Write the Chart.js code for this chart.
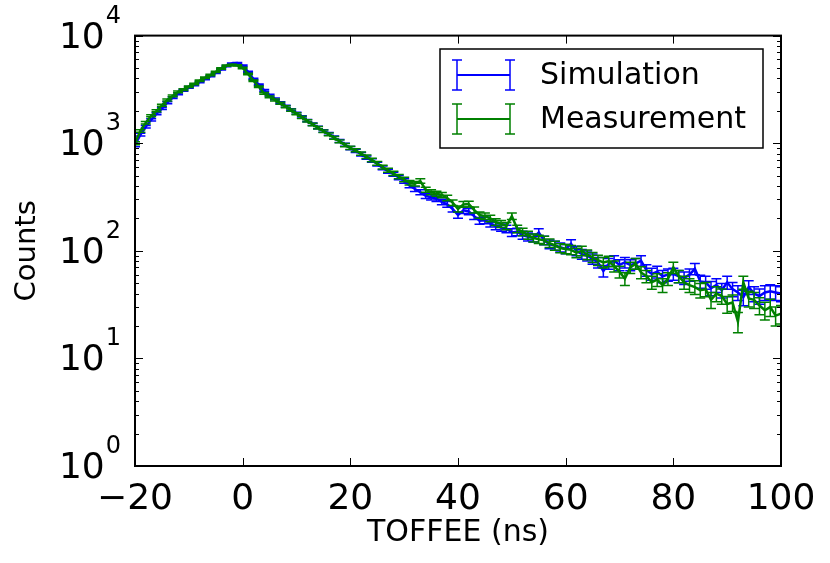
<!DOCTYPE html>
<html lang="en">
<head>
  <meta charset="UTF-8" />
  <title>TOFFEE distribution</title>
  <script src="https://cdn.jsdelivr.net/npm/chart.js"></script>
  <style>
    body { margin: 0; background: #fff; }
    #wrap { width: 830px; height: 563px; position: relative; }
  </style>
</head>
<body>
  <div id="wrap"><canvas id="chart"></canvas></div>

  <script>
    // bin centres (ns)
    const toffee = [
      -20, -19, -18, -17, -16, -15, -14, -13, -12, -11, -10, -9, -8, -7, -6, -5, -4, -3, -2, -1,
      0, 1, 2, 3, 4, 5, 6, 7, 8, 9, 10, 11, 12, 13, 14, 15, 16, 17, 18, 19,
      20, 21, 22, 23, 24, 25, 26, 27, 28, 29, 30, 31, 32, 33, 34, 35, 36, 37, 38, 39,
      40, 41, 42, 43, 44, 45, 46, 47, 48, 49, 50, 51, 52, 53, 54, 55, 56, 57, 58, 59,
      60, 61, 62, 63, 64, 65, 66, 67, 68, 69, 70, 71, 72, 73, 74, 75, 76, 77, 78, 79,
      80, 81, 82, 83, 84, 85, 86, 87, 88, 89, 90, 91, 92, 93, 94, 95, 96, 97, 98, 99, 100
    ];

    const simulation = [
      960, 1200, 1420, 1650, 1880, 2100, 2380, 2650, 2880, 3100, 3300, 3480, 3700, 3950, 4200, 4500, 4850, 5200, 5500, 5550,
      5250, 4600, 3950, 3500, 3100, 2800, 2580, 2380, 2200, 2050, 1900, 1760, 1620, 1500, 1400, 1300, 1220, 1130, 1050, 970,
      900, 850, 790, 735, 690, 640, 590, 550, 515, 480, 445, 405, 375, 350, 325, 315, 305, 285, 270, 245,
      215, 238, 232, 210, 190, 192, 180, 170, 165, 160, 148, 150, 140, 135, 132, 148, 125, 115, 112, 108,
      104, 116, 100, 93, 90, 84, 78, 65, 76, 81, 74, 78, 74, 76, 81, 66, 61, 64, 58, 60,
      61, 58, 56, 60, 68, 52, 51, 45, 48, 43, 51, 44, 41, 37, 46, 40, 38, 41, 42, 41, 40
    ];

    const measurement = [
      1000, 1300, 1550, 1800, 2000, 2250, 2520, 2750, 3000, 3150, 3350, 3550, 3800, 4050, 4300, 4600, 4950, 5250, 5350, 5300,
      5000, 4400, 3800, 3350, 2900, 2700, 2520, 2350, 2180, 2030, 1880, 1740, 1610, 1490, 1390, 1290, 1210, 1120, 1040, 960,
      905, 860, 800, 750, 700, 650, 600, 560, 525, 490, 460, 430, 420, 445, 370, 350, 340, 330, 310, 280,
      245, 270, 272, 240, 215, 210, 200, 185, 178, 170, 210, 160, 150, 140, 132, 128, 125, 118, 112, 106,
      104, 102, 96, 100, 92, 87, 82, 78, 80, 72, 64, 55, 70, 76, 63, 58, 51, 54, 48, 55,
      70, 58, 51, 48, 46, 43, 44, 35, 40, 38, 32, 33, 22, 51, 36, 35, 31, 28, 30, 25, 26
    ];

    const xTicks = [-20, 0, 20, 40, 60, 80, 100];
    const yDecades = [1, 10, 100, 1000, 10000];
    const seriesNames = ['Simulation', 'Measurement'];
    const seriesColors = ['#0000ff', '#008000'];

    const FONT = 'DejaVu Sans';

    // Poisson error bars, drawn through the y scale
    const errorBars = {
      id: 'errorBars',
      afterDatasetDraw(chart, args) {
        const ds = chart.data.datasets[args.index];
        const ys = chart.scales.y;
        const area = chart.chartArea;
        const ctx = chart.ctx;
        ctx.save();
        ctx.beginPath();
        ctx.rect(area.left, area.top, area.right - area.left, area.bottom - area.top);
        ctx.clip();
        ctx.strokeStyle = ds.borderColor;
        ctx.lineWidth = 1.5;
        args.meta.data.forEach((pt, i) => {
          const v = ds.data[i].y;
          const e = Math.sqrt(v);
          const top = ys.getPixelForValue(v + e);
          const bot = ys.getPixelForValue(v - e);
          const x = pt.x;
          ctx.beginPath();
          ctx.moveTo(x, top); ctx.lineTo(x, bot);
          ctx.moveTo(x - 5, top); ctx.lineTo(x + 5, top);
          ctx.moveTo(x - 5, bot); ctx.lineTo(x + 5, bot);
          ctx.stroke();
        });
        ctx.restore();
      }
    };

    // frame, inward ticks, 10^n labels and legend box
    const frame = {
      id: 'frame',
      afterDraw(chart) {
        const { ctx, chartArea: a, scales } = chart;
        ctx.save();
        ctx.strokeStyle = '#000';
        ctx.lineWidth = 1;
        ctx.beginPath();
        scales.x.ticks.forEach(t => {
          const px = Math.round(scales.x.getPixelForValue(t.value)) + 0.5;
          ctx.moveTo(px, a.bottom); ctx.lineTo(px, a.bottom - 8);
          ctx.moveTo(px, a.top); ctx.lineTo(px, a.top + 8);
        });
        scales.y.ticks.forEach(t => {
          const py = Math.round(scales.y.getPixelForValue(t.value)) + 0.5;
          const len = yDecades.includes(t.value) ? 8 : 4;
          ctx.moveTo(a.left, py); ctx.lineTo(a.left + len, py);
          ctx.moveTo(a.right, py); ctx.lineTo(a.right - len, py);
        });
        ctx.stroke();

        ctx.lineWidth = 2;
        ctx.strokeRect(a.left, a.top, a.right - a.left, a.bottom - a.top);

        // y labels as 10 with raised exponent
        ctx.fillStyle = '#000';
        ctx.textAlign = 'right';
        ctx.textBaseline = 'alphabetic';
        yDecades.forEach((v, k) => {
          const py = scales.y.getPixelForValue(v);
          ctx.font = '24px "' + FONT + '"';
          const ew = ctx.measureText(String(k)).width;
          ctx.fillText(String(k), 121, py - 13);
          ctx.font = '36px "' + FONT + '"';
          ctx.fillText('10', 121 - ew - 1, py + 12);
        });

        // legend
        const lx = 440, ly = 49, lw = 323, lh = 99;
        ctx.fillStyle = '#fff';
        ctx.fillRect(lx, ly, lw, lh);
        ctx.lineWidth = 1.5;
        ctx.strokeRect(lx, ly, lw, lh);
        ctx.font = '30px "' + FONT + '"';
        ctx.textAlign = 'left';
        ctx.textBaseline = 'middle';
        seriesNames.forEach((name, i) => {
          const cy = 75 + i * 44;
          ctx.strokeStyle = seriesColors[i];
          ctx.lineWidth = 2;
          ctx.beginPath();
          ctx.moveTo(457, cy); ctx.lineTo(510, cy);
          ctx.stroke();
          ctx.lineWidth = 1.5;
          ctx.beginPath();
          [457, 510].forEach(x => {
            ctx.moveTo(x, cy - 15); ctx.lineTo(x, cy + 15);
            ctx.moveTo(x - 5, cy - 15); ctx.lineTo(x + 5, cy - 15);
            ctx.moveTo(x - 5, cy + 15); ctx.lineTo(x + 5, cy + 15);
          });
          ctx.stroke();
          ctx.fillStyle = '#000';
          ctx.fillText(name, 540, cy + 1);
        });
        ctx.restore();
      }
    };

    const makeSeries = vals => vals.map((v, i) => ({ x: toffee[i], y: v }));

    new Chart(document.getElementById('chart'), {
      type: 'line',
      data: {
        datasets: [
          { label: seriesNames[0], data: makeSeries(simulation), borderColor: seriesColors[0], order: 1 },
          { label: seriesNames[1], data: makeSeries(measurement), borderColor: seriesColors[1], order: 0 }
        ]
      },
      options: {
        responsive: true,
        maintainAspectRatio: false,
        animation: false,
        layout: { padding: { top: 34, right: 49, left: 0, bottom: 0 } },
        elements: {
          point: { radius: 0 },
          line: { borderWidth: 2.5, tension: 0 }
        },
        plugins: {
          legend: { display: false },
          tooltip: { enabled: false }
        },
        scales: {
          x: {
            type: 'linear',
            min: -20,
            max: 100,
            grid: { display: false },
            border: { display: false },
            afterBuildTicks: s => { s.ticks = xTicks.map(v => ({ value: v })); },
            afterFit: s => { s.height = 97; },
            ticks: {
              padding: 4,
              color: '#000',
              font: { family: FONT, size: 36 },
              callback: v => String(v).replace('-', '\u2212')
            },
            title: {
              display: true,
              text: 'TOFFEE (ns)',
              color: '#000',
              font: { family: FONT, size: 30 },
              padding: { top: 0, bottom: 12 }
            }
          },
          y: {
            type: 'logarithmic',
            min: 1,
            max: 10000,
            grid: { display: false },
            border: { display: false },
            afterBuildTicks: s => {
              const t = [];
              for (let d = 0; d < 4; d++) {
                for (let m = 1; m < 10; m++) t.push({ value: m * Math.pow(10, d) });
              }
              t.push({ value: 10000 });
              s.ticks = t;
            },
            afterFit: s => { s.width = 135; },
            ticks: {
              autoSkip: false,
              padding: 14,
              font: { family: FONT, size: 36 },
              callback: () => ''
            },
            title: {
              display: true,
              text: 'Counts',
              color: '#000',
              font: { family: FONT, size: 29 },
              padding: { top: 10, bottom: 0 }
            }
          }
        }
      },
      plugins: [errorBars, frame]
    });
  </script>
</body>
</html>
